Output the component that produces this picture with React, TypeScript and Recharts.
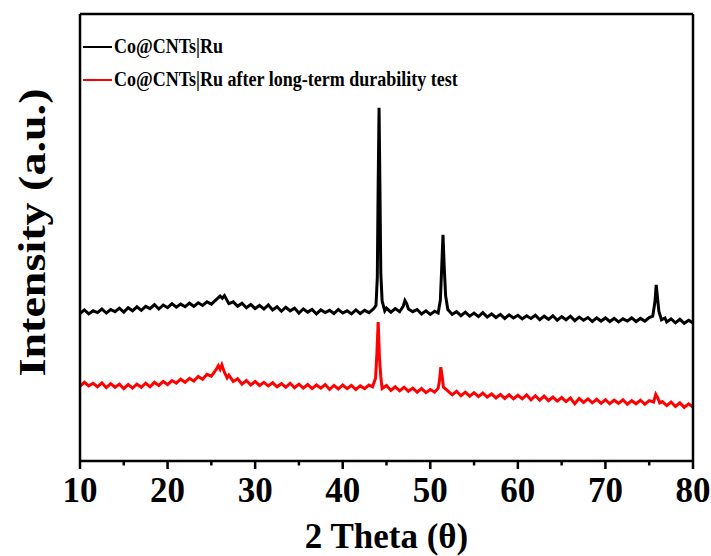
import React from "react";
import { LineChart, Line, XAxis, YAxis } from "recharts";

// 2θ scan, intensity in arbitrary units (0–100 frame)
const pristine: [number, number][] = [
  [10, 33.0], [10.5, 33.8], [11, 32.9], [11.5, 33.6], [12, 33.2], [12.5, 34.0], [13, 33.1], [13.5, 33.9],
  [14, 33.4], [14.5, 34.2], [15, 33.3], [15.5, 34.3], [16, 33.6], [16.5, 34.5], [17, 33.7], [17.5, 34.6],
  [18, 34.1], [18.5, 35.0], [19, 34.0], [19.5, 34.9], [20, 34.3], [20.5, 35.2], [21, 34.4], [21.5, 35.1],
  [22, 34.5], [22.5, 35.3], [23, 34.6], [23.5, 35.4], [24, 34.8], [24.5, 35.6], [25, 35.1], [25.5, 36.0],
  [26, 36.9], [26.25, 36.4], [26.5, 37.0], [27, 35.2], [27.5, 35.6], [28, 34.6], [28.5, 35.3], [29, 34.3],
  [29.5, 35.0], [30, 34.1], [30.5, 34.8], [31, 34.0], [31.5, 34.9], [32, 33.8], [32.5, 34.5], [33, 33.5],
  [33.5, 34.4], [34, 33.6], [34.5, 34.2], [35, 33.1], [35.5, 34.0], [36, 33.3], [36.5, 33.9], [37, 32.9],
  [37.5, 33.8], [38, 33.2], [38.5, 33.7], [39, 33.0], [39.5, 33.9], [40, 33.1], [40.5, 33.6], [41, 32.9],
  [41.5, 33.8], [42, 33.0], [42.5, 33.7], [43, 33.2], [43.5, 34.0], [43.8, 34.8], [43.95, 41], [44.05, 62],
  [44.15, 79], [44.25, 61], [44.35, 42], [44.5, 35.8], [44.8, 33.6], [45, 34.2], [45.5, 33.3], [46, 34.1],
  [46.5, 33.4], [46.9, 34.6], [47.1, 35.9], [47.3, 35.2], [47.5, 34.0], [48, 33.4], [48.5, 33.9], [49, 32.9],
  [49.5, 33.6], [50, 32.8], [50.5, 33.5], [50.9, 33.1], [51.15, 36], [51.3, 43], [51.45, 50.6], [51.6, 43],
  [51.75, 37], [52, 33.9], [52.5, 32.8], [53, 33.4], [53.5, 32.5], [54, 33.3], [54.5, 32.4], [55, 33.1],
  [55.5, 32.3], [56, 33.2], [56.5, 32.2], [57, 32.9], [57.5, 32.1], [58, 32.8], [58.5, 31.9], [59, 32.7],
  [59.5, 32.0], [60, 32.6], [60.5, 31.8], [61, 32.5], [61.5, 31.9], [62, 32.6], [62.5, 31.6], [63, 32.4],
  [63.5, 31.7], [64, 32.5], [64.5, 31.5], [65, 32.3], [65.5, 31.6], [66, 32.4], [66.5, 31.4], [67, 32.2],
  [67.5, 31.5], [68, 32.1], [68.5, 31.2], [69, 32.0], [69.5, 31.3], [70, 32.0], [70.5, 31.2], [71, 31.9],
  [71.5, 31.1], [72, 31.8], [72.5, 31.3], [73, 32.0], [73.5, 31.2], [74, 31.9], [74.5, 31.3], [75, 32.1],
  [75.4, 32.4], [75.65, 35.5], [75.8, 39.4], [75.95, 36.5], [76.1, 33.5], [76.4, 31.6], [76.8, 32.0], [77, 31.1],
  [77.5, 31.8], [78, 30.9], [78.5, 31.7], [79, 30.8], [79.5, 31.5], [80, 30.9],
];

const afterTest: [number, number][] = [
  [10, 16.7], [10.5, 17.6], [11, 16.8], [11.5, 17.4], [12, 16.6], [12.5, 17.5], [13, 16.4], [13.5, 17.3],
  [14, 16.5], [14.5, 17.2], [15, 16.2], [15.5, 17.1], [16, 16.3], [16.5, 17.2], [17, 16.5], [17.5, 17.4],
  [18, 16.6], [18.5, 17.6], [19, 16.9], [19.5, 17.8], [20, 17.1], [20.5, 18.0], [21, 17.4], [21.5, 18.3],
  [22, 17.6], [22.5, 18.5], [23, 17.9], [23.5, 18.9], [24, 18.3], [24.5, 19.4], [25, 19.0], [25.5, 20.3],
  [25.8, 21.3], [26.0, 20.5], [26.2, 21.5], [26.5, 19.8], [26.8, 18.6], [27, 19.2], [27.5, 17.8], [28, 18.4],
  [28.5, 17.2], [29, 18.0], [29.5, 17.0], [30, 17.8], [30.5, 16.9], [31, 17.6], [31.5, 16.8], [32, 17.5],
  [32.5, 16.6], [33, 17.3], [33.5, 16.5], [34, 17.4], [34.5, 16.4], [35, 17.2], [35.5, 16.3], [36, 17.1],
  [36.5, 16.2], [37, 17.0], [37.5, 16.3], [38, 17.1], [38.5, 16.0], [39, 16.9], [39.5, 16.1], [40, 17.0],
  [40.5, 16.2], [41, 16.9], [41.5, 16.0], [42, 16.8], [42.5, 16.2], [43, 17.0], [43.4, 16.6], [43.75, 18.5],
  [43.9, 24], [44.05, 31.1], [44.2, 23], [44.35, 18.8], [44.5, 16.2], [45, 16.9], [45.5, 15.8], [46, 16.6],
  [46.5, 15.7], [47, 16.5], [47.5, 15.6], [48, 16.3], [48.5, 15.4], [49, 16.2], [49.5, 15.3], [50, 16.0],
  [50.5, 15.4], [50.9, 16.3], [51.05, 18], [51.2, 21], [51.35, 19], [51.5, 16.5], [52, 15.7], [52.5, 14.8],
  [53, 15.6], [53.5, 14.6], [54, 15.4], [54.5, 14.5], [55, 15.3], [55.5, 14.4], [56, 15.2], [56.5, 14.3],
  [57, 15.0], [57.5, 14.1], [58, 14.9], [58.5, 14.0], [59, 14.8], [59.5, 13.9], [60, 14.7], [60.5, 13.9],
  [61, 14.8], [61.5, 13.7], [62, 14.6], [62.5, 13.6], [63, 14.5], [63.5, 13.5], [64, 14.3], [64.5, 13.4],
  [65, 14.2], [65.5, 13.3], [66, 14.1], [66.5, 12.8], [67, 14.0], [67.5, 13.1], [68, 13.9], [68.5, 13.0],
  [69, 13.8], [69.5, 12.9], [70, 13.7], [70.5, 12.8], [71, 13.6], [71.5, 12.9], [72, 13.7], [72.5, 12.7],
  [73, 13.5], [73.5, 12.8], [74, 13.6], [74.5, 12.7], [75, 13.5], [75.5, 13.2], [75.75, 14.9], [75.95, 14.2],
  [76.2, 13.0], [76.5, 13.3], [77, 12.4], [77.5, 13.2], [78, 12.2], [78.5, 13.0], [79, 12.0], [79.5, 12.8],
  [80, 12.1],
];

const xTicks = [10, 15, 20, 25, 30, 35, 40, 45, 50, 55, 60, 65, 70, 75, 80];
const seriesNames = ["Co@CNTs|Ru", "Co@CNTs|Ru after long-term durability test"];
const seriesColors = ["#000000", "#ff0000"];

const FONT = '"Liberation Serif", "Times New Roman", serif';

const toRows = (pts: [number, number][]) => pts.map(([x, y]) => ({ x, y }));

// y arrives at the end of the 8px tick line; minor ticks get their lower half masked
const AxisTick = (props: any) => {
  const { x, y, payload } = props;
  const major = payload.value % 10 === 0;
  return (
    <g>
      {!major && <rect x={x - 3} y={y - 3.5} width={6} height={5} fill="#fff" />}
      {major && (
        <text x={x} y={y + 33} textAnchor="middle" fontFamily={FONT} fontWeight="bold" fontSize={35} fill="#000">
          {payload.value}
        </text>
      )}
    </g>
  );
};

export default function App() {
  return (
    <div style={{ position: "absolute", left: 0, top: 0, width: 711, height: 556, background: "#fff" }}>
      <LineChart width={711} height={556} margin={{ top: 13, right: 17, bottom: 35, left: 20 }}>
        <XAxis
          type="number" dataKey="x" domain={[10, 80]} ticks={xTicks} interval={0}
          height={60} tickSize={8} tickMargin={0} tickLine={{ stroke: "#000", strokeWidth: 2.5 }} tick={<AxisTick />}
          axisLine={{ stroke: "#000", strokeWidth: 2.5 }} allowDataOverflow
          label={{
            content: ({ viewBox }: any) => (
              <text x={viewBox.x + viewBox.width / 2} y={548} textAnchor="middle" fontFamily={FONT} fontWeight="bold" fontSize={35} fill="#000">
                2 Theta (θ)
              </text>
            ),
          }}
        />
        <XAxis xAxisId="top" orientation="top" type="number" domain={[10, 80]} height={1} tick={false} tickLine={false} axisLine={{ stroke: "#000", strokeWidth: 2.5 }} />
        <YAxis
          type="number" domain={[0, 100]} width={60} tick={false} tickLine={false}
          axisLine={{ stroke: "#000", strokeWidth: 2.5 }}
          label={{
            content: ({ viewBox }: any) => {
              const cx = 32;
              const cy = viewBox.y + viewBox.height / 2 - 5;
              return (
                <text x={cx} y={cy} transform={`rotate(-90 ${cx} ${cy})`} textAnchor="middle" dominantBaseline="central"
                  fontFamily={FONT} fontWeight="bold" fontSize={37} textLength={288} lengthAdjust="spacingAndGlyphs" fill="#000">
                  Intensity (a.u.)
                </text>
              );
            },
          }}
        />
        <YAxis yAxisId="right" orientation="right" type="number" domain={[0, 100]} width={1} tick={false} tickLine={false} axisLine={{ stroke: "#000", strokeWidth: 2.5 }} />
        <Line data={toRows(pristine)} dataKey="y" stroke={seriesColors[0]} strokeWidth={3} dot={false} isAnimationActive={false} name={seriesNames[0]} />
        <Line data={toRows(afterTest)} dataKey="y" stroke={seriesColors[1]} strokeWidth={3} dot={false} isAnimationActive={false} name={seriesNames[1]} />
      </LineChart>
      <div style={{ position: "absolute", left: 83, top: 30, fontFamily: FONT, fontWeight: "bold", fontSize: 18, lineHeight: "33px", color: "#000" }}>
        {seriesNames.map((n, i) => (
          <div key={n} style={{ display: "flex", alignItems: "center", whiteSpace: "nowrap" }}>
            <span style={{ display: "inline-block", width: 29, height: 2, background: seriesColors[i], marginRight: 2 }} />
            <span style={{ display: "inline-block", transform: "scaleY(1.2)" }}>{n}</span>
          </div>
        ))}
      </div>
    </div>
  );
}
